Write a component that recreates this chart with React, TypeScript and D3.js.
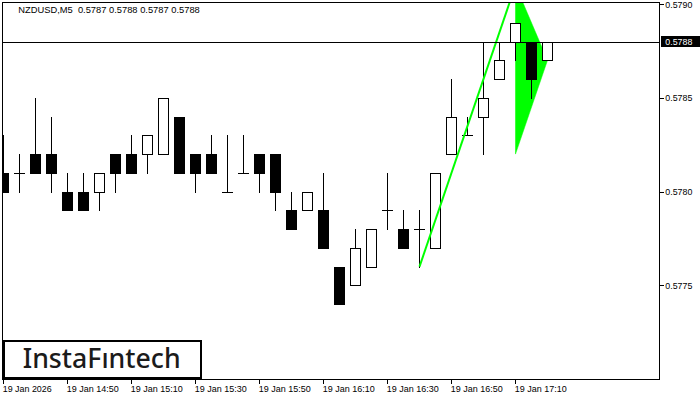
import React from "react";
import * as d3 from "d3";

const symbolTitle = "NZDUSD,M5  0.5787 0.5788 0.5787 0.5788";

const opens = [0.5781, 0.5781, 0.5782, 0.5782, 0.578, 0.578, 0.578, 0.5782, 0.5782, 0.5782, 0.5782, 0.5784, 0.5782, 0.5782, 0.578, 0.5781, 0.5782, 0.5782, 0.5779, 0.5779, 0.5779, 0.5776, 0.5775, 0.5776, 0.5779, 0.5778, 0.5778, 0.5777, 0.5782, 0.5783, 0.5784, 0.5786, 0.5788, 0.5788, 0.5787];
const highs = [0.5783, 0.5782, 0.5785, 0.5784, 0.5781, 0.5781, 0.5781, 0.5782, 0.5783, 0.5783, 0.5785, 0.5784, 0.5782, 0.5783, 0.5783, 0.5783, 0.5782, 0.5782, 0.578, 0.578, 0.5781, 0.5776, 0.5778, 0.5778, 0.5781, 0.5779, 0.5779, 0.5781, 0.5786, 0.5784, 0.5788, 0.5788, 0.5789, 0.5788, 0.5788];
const lows = [0.578, 0.578, 0.5781, 0.578, 0.5779, 0.5779, 0.5779, 0.578, 0.5781, 0.5781, 0.5782, 0.5781, 0.578, 0.5781, 0.578, 0.5781, 0.578, 0.5779, 0.5778, 0.5779, 0.5777, 0.5774, 0.5775, 0.5776, 0.5778, 0.5777, 0.5776, 0.5777, 0.5782, 0.5783, 0.5782, 0.5786, 0.5787, 0.5785, 0.5787];
const closes = [0.578, 0.5781, 0.5781, 0.5781, 0.5779, 0.5779, 0.5781, 0.5781, 0.5781, 0.5783, 0.5785, 0.5781, 0.5781, 0.5781, 0.578, 0.5781, 0.5781, 0.578, 0.5778, 0.578, 0.5777, 0.5774, 0.5777, 0.5778, 0.5779, 0.5777, 0.5778, 0.5781, 0.5784, 0.5783, 0.5785, 0.5787, 0.5789, 0.5786, 0.5788];

const timeTickIndex = [0, 4, 8, 12, 16, 20, 24, 28, 32];
const timeTickLabels = ["19 Jan 2026", "19 Jan 14:50", "19 Jan 15:10", "19 Jan 15:30", "19 Jan 15:50", "19 Jan 16:10", "19 Jan 16:30", "19 Jan 16:50", "19 Jan 17:10"];

const priceTicks = [0.579, 0.5785, 0.578, 0.5775];
const priceTickLabels = ["0.5790", "0.5785", "0.5780", "0.5775"];

const currentPrice = 0.5788;
const currentPriceLabel = "0.5788";

// Pennant: pole (index, price) and flag triangle
const poleIdx = [26, 32];
const polePrice = [0.5776, 0.5791];
const flagIdx = [32, 32, 34];
const flagPrice = [0.5791, 0.5782, 0.5787];

const logoText = "InstaFıntech";

export default function App() {
  const W = 700, H = 400;
  const left = 3, right = 659.5, top = 2.5, bottom = 379.5;
  const x = d3.scaleLinear().domain([0, 1]).range([3.5, 19.5]);
  const y = d3.scaleLinear().domain([0.5775, 0.579]).range([285.4, 4]);
  const snap = (v: number) => Math.round(v) + 0.5;
  const font = "'Liberation Sans', Arial, sans-serif";
  const bodyHalf = 5;

  const lineGen = d3.line<[number, number]>().x(d => x(d[0])).y(d => y(d[1]));
  const polePts: [number, number][] = poleIdx.map((v, i) => [v, polePrice[i]]);
  const flagPts: [number, number][] = flagIdx.map((v, i) => [v, flagPrice[i]]);

  return (
    <svg width={W} height={H} style={{ position: "absolute", left: 0, top: 0, background: "#fff" }}>
      <defs>
        <clipPath id="plot">
          <rect x={left} y={3} width={right - left} height={bottom - 3} />
        </clipPath>
      </defs>
      <rect x={0} y={0} width={W} height={H} fill="#fff" />
      <text x={18.3} y={13.3} fontFamily={font} fontSize={9.3} fill="#000" style={{ whiteSpace: "pre" }} textLength={181.5} lengthAdjust="spacingAndGlyphs">{symbolTitle}</text>

      <g clipPath="url(#plot)">
        <path d={lineGen(flagPts) + "Z"} fill="#00ff00" stroke="#00ff00" strokeWidth={0.5} />
        {opens.map((o, i) => {
          const c = closes[i];
          const cx = x(i);
          const yh = snap(y(highs[i]));
          const yl = snap(y(lows[i]));
          const yo = snap(y(o));
          const yc = snap(y(c));
          const yTop = Math.min(yo, yc);
          const yBot = Math.max(yo, yc);
          const bull = c > o;
          const bear = c < o;
          return (
            <g key={i} shapeRendering="crispEdges">
              <line x1={cx} x2={cx} y1={yh - 0.5} y2={yl + 0.5} stroke="#000" strokeWidth={1} />
              {bear && (
                <rect x={cx - bodyHalf - 0.5} y={yTop - 0.5} width={bodyHalf * 2 + 1} height={yBot - yTop + 1} fill="#000" />
              )}
              {bull && (
                <rect x={cx - bodyHalf} y={yTop} width={bodyHalf * 2} height={yBot - yTop} fill="#fff" stroke="#000" strokeWidth={1} />
              )}
              {!bull && !bear && (
                <line x1={cx - bodyHalf - 0.5} x2={cx + bodyHalf + 0.5} y1={yo} y2={yo} stroke="#000" strokeWidth={1} />
              )}
            </g>
          );
        })}
        <path d={lineGen(polePts) || ""} fill="none" stroke="#00ff00" strokeWidth={2} />
        <line x1={left} x2={right} y1={snap(y(currentPrice))} y2={snap(y(currentPrice))} stroke="#000" strokeWidth={1} shapeRendering="crispEdges" />
      </g>

      <g shapeRendering="crispEdges">
        <line x1={2.5} x2={2.5} y1={top} y2={bottom} stroke="#000" />
        <line x1={2} x2={right + 0.5} y1={top} y2={top} stroke="#000" />
        <line x1={right} x2={right} y1={top} y2={bottom} stroke="#000" />
        <line x1={2} x2={right + 0.5} y1={bottom} y2={bottom} stroke="#000" />
      </g>

      {priceTicks.map((p, i) => (
        <g key={i}>
          <line x1={right} x2={right + 4} y1={snap(y(p))} y2={snap(y(p))} stroke="#000" shapeRendering="crispEdges" />
          <text x={665.3} y={y(p) + 3.5} fontFamily={font} fontSize={9.3} fill="#000" textLength={27} lengthAdjust="spacingAndGlyphs">{priceTickLabels[i]}</text>
        </g>
      ))}

      <rect x={661} y={36} width={39} height={11} fill="#000" />
      <text x={665.3} y={y(currentPrice) + 3.5} fontFamily={font} fontSize={9.3} fill="#fff" textLength={27} lengthAdjust="spacingAndGlyphs">{currentPriceLabel}</text>

      {timeTickIndex.map((ti, i) => (
        <g key={i}>
          <line x1={x(ti)} x2={x(ti)} y1={bottom} y2={bottom + 4} stroke="#000" shapeRendering="crispEdges" />
          <text x={x(ti) - 0.8} y={391.7} fontFamily={font} fontSize={9.3} fill="#000" textLength={i === 0 ? 49 : 52} lengthAdjust="spacingAndGlyphs">{timeTickLabels[i]}</text>
        </g>
      ))}

      <rect x={4} y={341} width={197} height={37} fill="#fff" stroke="#000" strokeWidth={2} />
      <text x={22.7} y={368.3} fontFamily="'Noto Sans', 'Open Sans', sans-serif" fontWeight={500} fontSize={26.5} fill="#1b1b1b" textLength={158} lengthAdjust="spacingAndGlyphs">{logoText}</text>
    </svg>
  );
}
